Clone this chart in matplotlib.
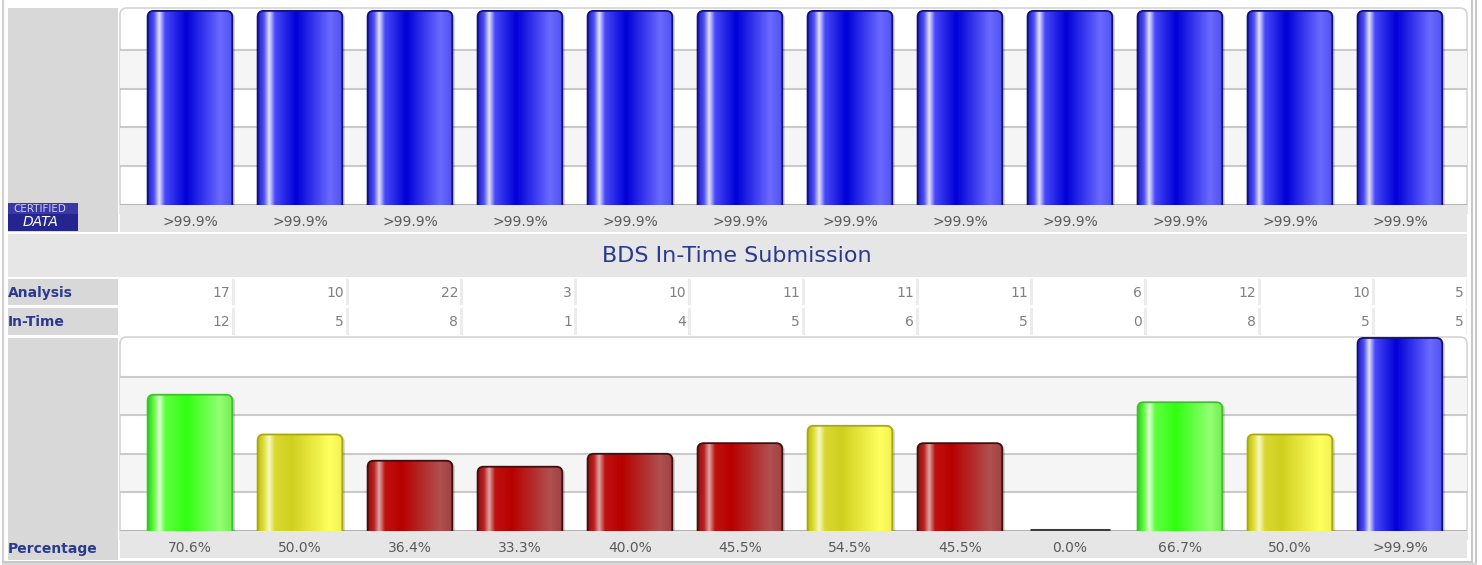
import numpy as np
import matplotlib
matplotlib.use("Agg")
import matplotlib.pyplot as plt
from matplotlib.patches import Rectangle, FancyBboxPatch
from matplotlib.colors import to_rgb

# --- data ---
top_values = [100] * 12
top_labels = [">99.9%"] * 12

analysis = [17, 10, 22, 3, 10, 11, 11, 11, 6, 12, 10, 5]
in_time = [12, 5, 8, 1, 4, 5, 6, 5, 0, 8, 5, 5]

pct_values = [70.6, 50.0, 36.4, 33.3, 40.0, 45.5, 54.5, 45.5, 0.0, 66.7, 50.0, 100.0]
pct_labels = ["70.6%", "50.0%", "36.4%", "33.3%", "40.0%", "45.5%",
              "54.5%", "45.5%", "0.0%", "66.7%", "50.0%", ">99.9%"]

TITLE = "BDS In-Time Submission"
NAVY = "#2b3a8f"

W, H = 1482, 565
fig = plt.figure(figsize=(W / 100, H / 100), dpi=100)
fig.patch.set_facecolor("white")


def px_axes(x0, y0, x1, y1):
    return fig.add_axes([x0 / W, 1 - y1 / H, (x1 - x0) / W, (y1 - y0) / H])


# background layer in pixel coordinates
bg = px_axes(0, 0, W, H)
bg.set_xlim(0, W)
bg.set_ylim(H, 0)
bg.axis("off")


def box(x0, y0, x1, y1, fc, **kw):
    bg.add_patch(Rectangle((x0, y0), x1 - x0, y1 - y0, fc=fc, ec="none", **kw))


# outer frame
bg.plot([2.5, 2.5], [0, 563], color="#d0d0d0", lw=1.5)
bg.plot([1472, 1472], [0, 562], color="#c8c8c8", lw=1.5)
bg.plot([1476, 1476], [0, 564], color="#c8c8c8", lw=1.5)
bg.plot([2.5, 1472], [561.5, 561.5], color="#c8c8c8", lw=1.5)
bg.plot([2.5, 1476], [564, 564], color="#d8d8d8", lw=1.5)

# left label column and strips
box(8, 8, 118, 232, "#d8d8d8")
box(120, 205, 1467, 232, "#e6e6e6")
box(8, 234, 1467, 277, "#e6e6e6")
box(8, 338, 118, 560, "#d8d8d8")
box(120, 531, 1467, 558, "#e6e6e6")

# plot frames (rounded top corners)
for (y0, y1) in [(8, 205), (337, 531)]:
    bg.add_patch(FancyBboxPatch((120, y0), 1347, y1 - y0 + 8,
                                boxstyle="round,pad=0,rounding_size=7",
                                fc="white", ec="#d4d4d4", lw=1.2))
    box(119, y1, 1468, y1 + 9, "#e6e6e6")

# title
bg.text(737, 256, TITLE, ha="center", va="center", fontsize=16, color=NAVY)

# table rows
edges = [120] + [233 + 114 * i for i in range(11)] + [1467]
rows = [("Analysis", analysis, 279, 305), ("In-Time", in_time, 308, 335)]
for name, vals, y0, y1 in rows:
    box(8, y0, 118, y1, "#d8d8d8")
    box(120, y0, 1467, y1, "#ececec")
    bg.text(8, (y0 + y1) / 2 + 1, name, ha="left", va="center",
            fontsize=10, fontweight="bold", color=NAVY)
    for i, v in enumerate(vals):
        box(edges[i] + (0 if i == 0 else 1.5), y0, edges[i + 1] - 1, y1, "white")
        bg.text(edges[i + 1] - 3, (y0 + y1) / 2 + 1, str(v), ha="right",
                va="center", fontsize=10, color="#808080")

bg.text(8, 549, "Percentage", ha="left", va="center",
        fontsize=10, fontweight="bold", color=NAVY)

# certified data badge
box(8, 203, 78, 231, "#25258f")
box(8, 203, 78, 214, "#3838a6")
bg.text(40, 209.5, "CERTIFIED", ha="center", va="center", fontsize=7.5,
        color="#cfd0f0")
bg.text(41, 222.5, "DATA", ha="center", va="center", fontsize=10,
        style="italic", color="white")

# --- bar styles ---
GRADS = {
    "blue": ([0, .07, .13, .2, .45, .85, 1],
             ["#2020c0", "#5050ff", "#e4e4ff", "#4848f8", "#0000d8", "#6a6aff", "#5050f0"],
             "#10107a"),
    "green": ([0, .07, .13, .2, .45, .85, 1],
              ["#30d020", "#60ff40", "#e4ffdc", "#60ff40", "#30ff10", "#94ff74", "#70ee50"],
              "#40c030"),
    "yellow": ([0, .07, .13, .2, .4, .85, 1],
               ["#c0c010", "#e0e040", "#f8f8c8", "#d8d830", "#d0d020", "#ffff60", "#f0f050"],
               "#a8a810"),
    "red": ([0, .07, .13, .2, .4, .85, 1],
            ["#901010", "#c02020", "#d8a8a8", "#c01010", "#b80000", "#b05050", "#a04040"],
            "#3a1010"),
}


def bar_style(v):
    if v >= 99.9:
        return "blue"
    if v >= 60:
        return "green"
    if v >= 50:
        return "yellow"
    return "red"


def gradient(name, n=200):
    pos, cols, _ = GRADS[name]
    rgb = np.array([to_rgb(c) for c in cols])
    t = np.linspace(0, 1, n)
    g = np.stack([np.interp(t, pos, rgb[:, k]) for k in range(3)], axis=-1)
    return g[np.newaxis, :, :]


def chart(ax, values, labels, ytop):
    x = np.arange(len(values))
    xlim = (-0.636, 11.61)
    ax.set_xlim(*xlim)
    ax.set_ylim(0, ytop)
    ax.set_facecolor("none")
    for s in ax.spines.values():
        s.set_visible(False)
    ax.axhspan(20, 40, color="#f5f5f5", lw=0, zorder=0)
    ax.axhspan(60, 80, color="#f5f5f5", lw=0, zorder=0)
    ax.set_yticks([20, 40, 60, 80])
    ax.set_yticklabels([])
    ax.tick_params(axis="y", length=0)
    ax.grid(axis="y", color="#cacaca", lw=1.5, zorder=0.5)
    ax.set_axisbelow(True)
    ax.set_xticks(x)
    ax.set_xticklabels(labels)
    ax.tick_params(axis="x", length=0, pad=7, labelsize=10, labelcolor="#5a5a5a")
    ax.axhline(0, color="#b4b4b4", lw=1.5, zorder=1)

    bars = ax.bar(x, values, width=0.77, color="none", edgecolor="none")
    pos = ax.get_position()
    ax_w = pos.width * W
    ax_h = pos.height * H
    ppx = ax_w / (xlim[1] - xlim[0])
    ppy = ax_h / ytop
    asp = ppx / ppy
    r = 6 / ppx
    for b, v in zip(bars, values):
        x0, w, h = b.get_x(), b.get_width(), b.get_height()
        if h <= 0:
            ax.hlines(0.5, x0 + 0.02, x0 + w - 0.02, color="#3c3c3c", lw=2.2, zorder=3)
            continue
        name = bar_style(v)
        ext = r * asp
        shadow = FancyBboxPatch((x0 + 2.5 / ppx, -ext), w, h + ext - 1.5 / ppy,
                                boxstyle=f"round,pad=0,rounding_size={r}",
                                mutation_aspect=asp, fc="#000000", ec="none",
                                alpha=0.18, zorder=1.5)
        ax.add_patch(shadow)
        patch = FancyBboxPatch((x0, -ext), w, h + ext,
                               boxstyle=f"round,pad=0,rounding_size={r}",
                               mutation_aspect=asp, fc="none",
                               ec=GRADS[name][2], lw=1.3, zorder=3)
        ax.add_patch(patch)
        im = ax.imshow(gradient(name), extent=(x0, x0 + w, 0, h), aspect="auto",
                       interpolation="bilinear", zorder=2)
        im.set_clip_path(patch)
    ax.set_xlim(*xlim)
    ax.set_ylim(0, ytop)


ax_top = px_axes(120, 8, 1467, 205)
chart(ax_top, top_values, top_labels, 101.5)

ax_bot = px_axes(120, 337, 1467, 531)
chart(ax_bot, pct_values, pct_labels, 100.5)

fig.savefig("out.png", dpi=100)
